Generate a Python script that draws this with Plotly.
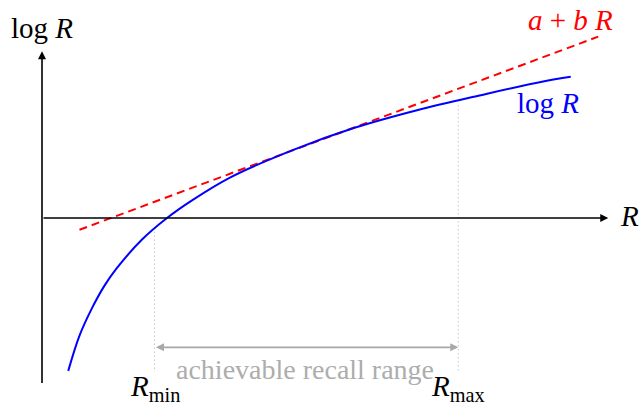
import plotly.graph_objects as go

# data (R on x, log R on y)
R_curve = [0.21, 0.30, 0.40, 0.50, 0.60, 0.80, 1.00, 1.20, 1.50, 2.00, 2.50, 3.00, 3.50, 4.00, 4.23]
logR_curve = [-1.56, -1.20, -0.92, -0.69, -0.51, -0.22, 0.00, 0.18, 0.41, 0.69, 0.92, 1.10, 1.25, 1.39, 1.44]
R_line = [0.30, 4.45]
line_vals = [-0.12, 1.85]
R_min, R_max = 0.90, 3.33
dot_min = [-0.14, -1.57]
dot_max = [1.15, -1.57]
range_y = -1.32

FONT = "Liberation Serif"
fig = go.Figure()

fig.add_trace(go.Scatter(x=R_line, y=line_vals, mode="lines",
                         line=dict(color="#ff0000", width=2, dash="8px,5px"),
                         hoverinfo="skip"))
fig.add_trace(go.Scatter(x=R_curve, y=logR_curve, mode="lines", line_shape="spline",
                         line=dict(color="#0000ff", width=2), hoverinfo="skip"))
fig.add_trace(go.Scatter(x=[R_min, R_min], y=dot_min, mode="lines",
                         line=dict(color="#b0b0b0", width=1, dash="1px,3px"), hoverinfo="skip"))
fig.add_trace(go.Scatter(x=[R_max, R_max], y=dot_max, mode="lines",
                         line=dict(color="#b0b0b0", width=1, dash="1px,3px"), hoverinfo="skip"))

ann = []
# axes
ann.append(dict(x=4.53, y=0, ax=0, ay=0, xref="x", yref="y", axref="x", ayref="y",
                showarrow=True, arrowhead=2, arrowsize=1, arrowwidth=1.6, arrowcolor="black", text=""))
ann.append(dict(x=0, y=1.70, ax=0, ay=-1.70, xref="x", yref="y", axref="x", ayref="y",
                showarrow=True, arrowhead=2, arrowsize=1, arrowwidth=1.6, arrowcolor="black", text=""))
# range arrow
ann.append(dict(x=R_max, y=range_y, ax=R_min, ay=range_y, xref="x", yref="y", axref="x", ayref="y",
                showarrow=True, arrowhead=2, startarrowhead=2, arrowside="end+start",
                arrowsize=1, arrowwidth=1.6, arrowcolor="#a8a8a8", text=""))

def txt(x, y, t, color="black", size=29):
    ann.append(dict(x=x, y=y, xref="x", yref="y", text=t, showarrow=False,
                    xanchor="center", yanchor="middle",
                    font=dict(family=FONT, size=size, color=color)))

txt(0, 1.94, "log <i>R</i>")
txt(4.70, 0.02, "<i>R</i>")
txt(4.23, 2.02, "<i>a</i> + <i>b</i> <i>R</i>", color="#ff0000")
txt(4.05, 1.17, "log <i>R</i>", color="#0000ff")
txt(2.10, -1.55, "achievable recall range", color="#adadad", size=28)
txt(R_min, -1.73, "<i>R</i><sub>min</sub>")
txt(R_max, -1.73, "<i>R</i><sub>max</sub>")

fig.update_layout(
    width=643, height=405, margin=dict(l=0, r=0, t=0, b=0),
    plot_bgcolor="white", paper_bgcolor="white", showlegend=False,
    xaxis=dict(range=[-0.336, 4.808], visible=False, fixedrange=True),
    yaxis=dict(range=[-1.908, 2.224], visible=False, fixedrange=True),
    annotations=ann,
)
fig.write_html("out.html", config={"displayModeBar": False},
               post_script="document.body.style.margin='0';")
